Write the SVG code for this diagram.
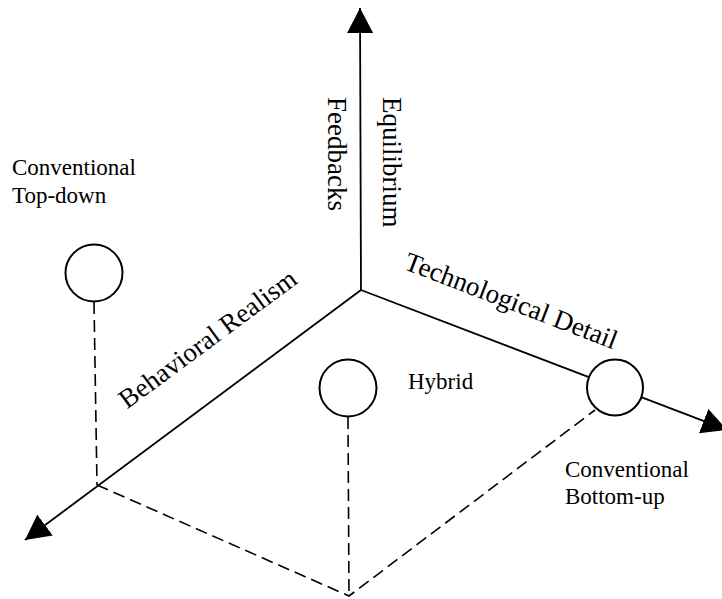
<svg xmlns="http://www.w3.org/2000/svg" width="722" height="599" viewBox="0 0 722 599">
<style>
.ax{stroke:#000;stroke-width:1.8;fill:none}
.dash{stroke:#000;stroke-width:1.6;fill:none;stroke-dasharray:12,6}
.node{fill:#fff;stroke:#000;stroke-width:2}
.lbl{font-family:"Liberation Serif","Times New Roman",serif;font-size:23px;fill:#000}
.axl{font-family:"Liberation Serif","Times New Roman",serif;font-size:27px;fill:#000}
</style>
<defs>
<marker id="ah" viewBox="0 0 25 26" refX="25" refY="13" markerWidth="25" markerHeight="26" markerUnits="userSpaceOnUse" orient="auto">
<path d="M0,0 L25,13 L0,26 Z" fill="#000"/>
</marker>
</defs>
<rect width="722" height="599" fill="#fff"/>
<g id="connectors">
<line class="ax" x1="361" y1="290" x2="360" y2="8" marker-end="url(#ah)"/>
<line class="ax" x1="361" y1="290" x2="25" y2="540" marker-end="url(#ah)"/>
<line class="ax" x1="361" y1="290" x2="727" y2="430" marker-end="url(#ah)"/>
<line class="dash" x1="94" y1="302" x2="97" y2="485"/>
<line class="dash" x1="348" y1="417" x2="349" y2="596"/>
<polyline class="dash" points="97,485 349,596 595,410"/>
</g>
<g id="axis-labels">
<text class="axl" transform="translate(383,97) rotate(90)">Equilibrium</text>
<text class="axl" transform="translate(328,97) rotate(90)">Feedbacks</text>
<text class="axl" text-anchor="middle" transform="translate(213,346) rotate(-36.5)">Behavioral Realism</text>
<text class="axl" text-anchor="middle" transform="translate(508,309) rotate(21)">Technological Detail</text>
</g>
<g id="top-down">
<circle class="node" cx="94" cy="273" r="28.5"/>
<text class="lbl" x="12" y="175">Conventional</text>
<text class="lbl" x="12" y="203">Top-down</text>
</g>
<g id="hybrid">
<circle class="node" cx="348" cy="388" r="28.5"/>
<text class="lbl" x="408" y="389">Hybrid</text>
</g>
<g id="bottom-up">
<circle class="node" cx="615" cy="387.5" r="28"/>
<text class="lbl" x="565" y="477">Conventional</text>
<text class="lbl" x="565" y="504">Bottom-up</text>
</g>
</svg>
